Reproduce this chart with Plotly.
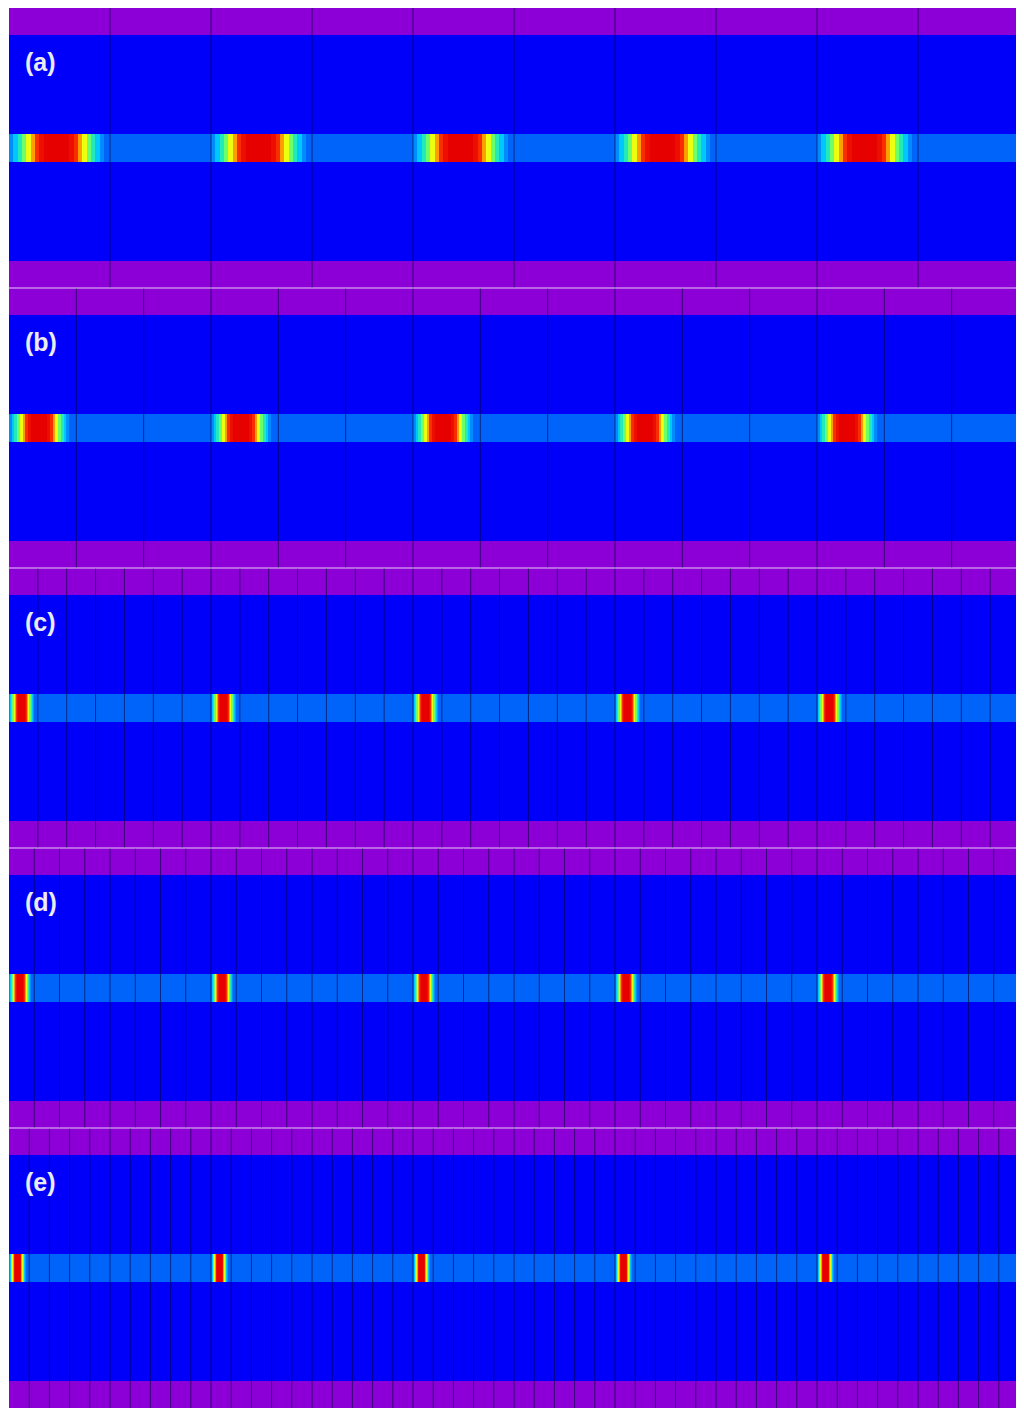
import plotly.graph_objects as go

# panel labels and mesh cell counts
labels = ["(a)", "(b)", "(c)", "(d)", "(e)"]
mesh_cells = [10, 15, 35, 40, 50]
# pulse width (px along a 1010 px long guide) for each panel
pulse_width = [95, 60, 25, 22, 17]
pulse_period = 202
n_pulses = 5
guide_length = 1010

# layer boundaries from bottom (px): purple, blue, core band, blue, purple
layer_bounds = [0, 27, 126, 154, 253, 280]
# colour-scale value across one pulse
pulse_profile = [0.08, 0.2, 0.32, 0.45, 0.58, 0.7, 0.85, 0.95, 1.0, 1.0, 1.0, 1.0, 1.0, 1.0,
                 0.95, 0.85, 0.7, 0.58, 0.45, 0.32, 0.2, 0.08]

PURPLE = "rgb(140,0,215)"
BLUE = "rgb(0,0,250)"
band_scale = [[0, "rgb(0,100,250)"], [0.2, "rgb(0,200,255)"], [0.4, "rgb(60,255,140)"],
              [0.6, "rgb(255,255,0)"], [0.8, "rgb(255,60,0)"], [1, "rgb(230,0,0)"]]

fig = go.Figure()
n = len(labels)
for i in range(n):
    ax = "" if i == 0 else str(i + 1)
    xa, ya = "x" + ax, "y" + ax
    # core band: piecewise columns
    edges = [0.0]
    z = []
    w = pulse_width[i]
    step = w / len(pulse_profile)
    for p in range(n_pulses):
        start = p * pulse_period
        if start > edges[-1]:
            edges.append(start)
            z.append(0)
        for k, v in enumerate(pulse_profile):
            edges.append(start + (k + 1) * step)
            z.append(v)
    edges.append(guide_length)
    z.append(0)
    fig.add_trace(go.Heatmap(x=edges, y=[layer_bounds[2], layer_bounds[3]], z=[z],
                             colorscale=band_scale, zmin=0, zmax=1, showscale=False,
                             xaxis=xa, yaxis=ya, hoverinfo="skip"))
    # cladding/substrate layers
    for lo, hi, col in [(layer_bounds[0], layer_bounds[1], PURPLE), (layer_bounds[1], layer_bounds[2], BLUE),
                        (layer_bounds[3], layer_bounds[4], BLUE), (layer_bounds[4], layer_bounds[5], PURPLE)]:
        fig.add_shape(type="rect", xref=xa, yref=ya, x0=0, x1=guide_length, y0=lo, y1=hi,
                      fillcolor=col, line_width=0, layer="below")
    # mesh lines
    mx, my = [], []
    for c in range(1, mesh_cells[i]):
        xv = c * guide_length / mesh_cells[i]
        mx += [xv, xv, None]
        my += [layer_bounds[0], layer_bounds[-1], None]
    fig.add_trace(go.Scatter(x=mx, y=my, mode="lines", line=dict(color="rgba(0,0,60,0.6)", width=1),
                             xaxis=xa, yaxis=ya, hoverinfo="skip", showlegend=False))
    top = 1 - i / n
    bottom = 1 - (i + 1) / n
    fig.update_layout({
        "xaxis" + ax: dict(domain=[0, 1], range=[0, guide_length], visible=False, anchor=ya),
        "yaxis" + ax: dict(domain=[bottom, top], range=[0, layer_bounds[-1]], visible=False, anchor=xa),
    })
    fig.add_annotation(xref=xa, yref=ya, x=14, y=226, text="<b>" + labels[i] + "</b>", showarrow=False,
                       xanchor="left", yanchor="middle",
                       font=dict(family="Arial, Liberation Sans", size=25, color="rgb(235,235,240)"))
    if i > 0:
        fig.add_shape(type="line", xref="paper", yref="paper", x0=0, x1=1, y0=top, y1=top,
                      line=dict(color="rgba(255,255,255,0.8)", width=1))

fig.update_layout(width=1011, height=1400, margin=dict(l=1, r=0, t=0, b=0),
                  paper_bgcolor="white", plot_bgcolor="white", showlegend=False)
fig.write_html("out.html")
